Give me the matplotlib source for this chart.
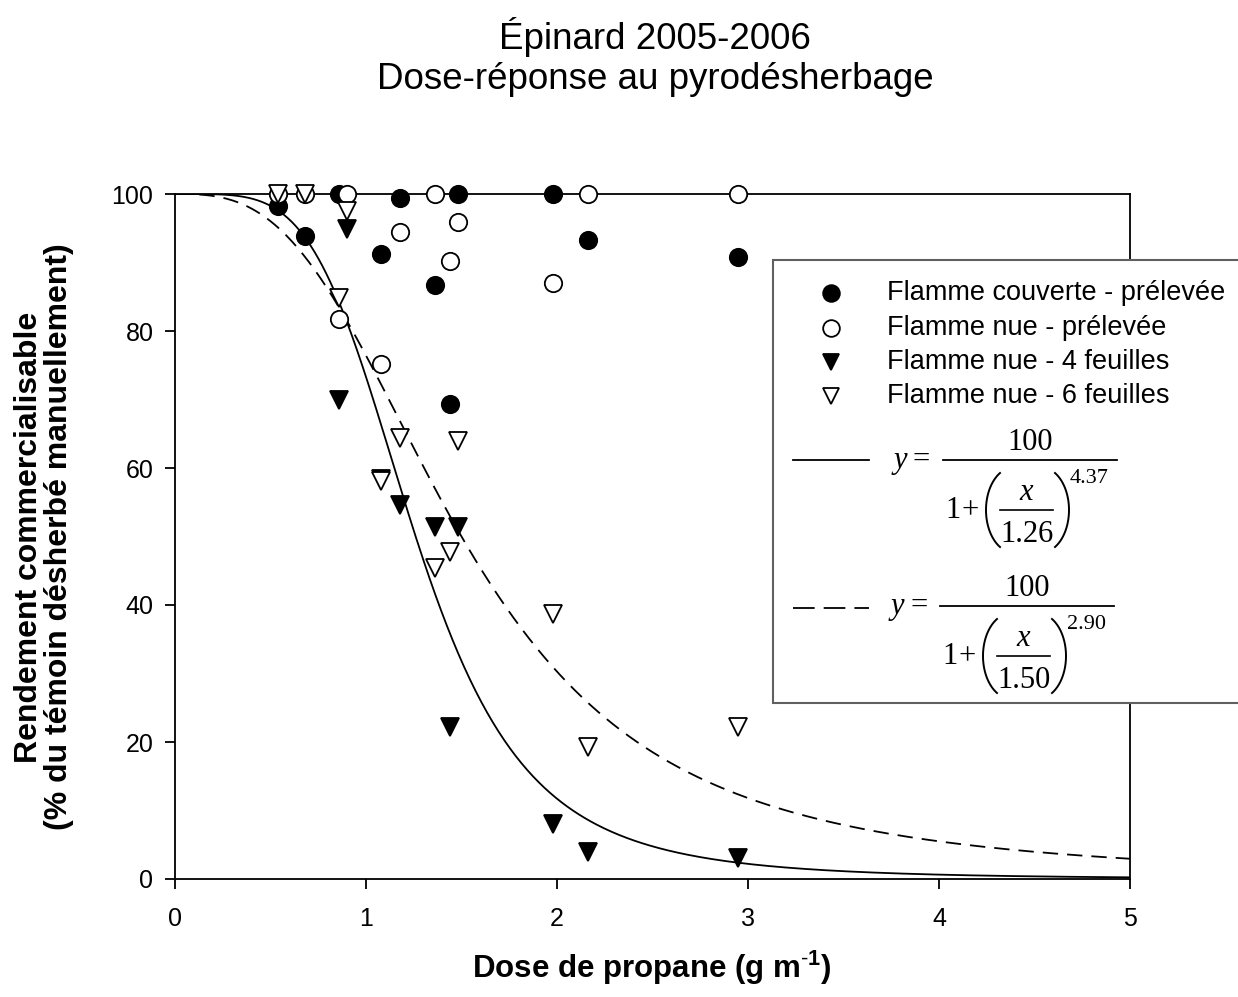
import numpy as np
import matplotlib
matplotlib.use("Agg")
import matplotlib.pyplot as plt
from matplotlib.lines import Line2D
from matplotlib.patches import Rectangle

plt.rcParams['font.family'] = ['Liberation Sans', 'DejaVu Sans']
plt.rcParams['mathtext.fontset'] = 'custom'
plt.rcParams['mathtext.rm'] = 'Liberation Sans'
plt.rcParams['mathtext.bf'] = 'Liberation Sans:bold'

# ---- data ----
couverte_x = [0.54, 0.68, 0.86, 1.08, 1.18, 1.36, 1.44, 1.48, 1.98, 2.16, 2.95]
couverte_y = [98.2, 93.9, 100.0, 91.2, 99.4, 86.7, 69.3, 100.0, 100.0, 93.3, 90.8]

nue_pre_x = [0.54, 0.68, 0.86, 0.90, 1.08, 1.18, 1.36, 1.44, 1.48, 1.98, 2.16, 2.95]
nue_pre_y = [100.0, 100.0, 81.8, 100.0, 75.2, 94.5, 100.0, 90.2, 95.9, 87.0, 100.0, 100.0]

f4_x = [0.86, 0.90, 1.08, 1.18, 1.36, 1.44, 1.48, 1.98, 2.16, 2.95]
f4_y = [69.9, 94.9, 58.4, 54.6, 51.4, 22.2, 51.4, 8.0, 3.9, 3.1]

f6_x = [0.54, 0.68, 0.86, 0.90, 1.08, 1.18, 1.36, 1.44, 1.48, 1.98, 2.16, 2.95]
f6_y = [100.0, 100.0, 84.8, 97.5, 58.1, 64.4, 45.4, 47.7, 63.9, 38.7, 19.3, 22.2]

# fitted log-logistic parameters (from the equations shown)
fit4_x50, fit4_b = 1.26, 4.37
fit6_x50, fit6_b = 1.50, 2.90

labels = ["Flamme couverte - prélevée", "Flamme nue - prélevée",
          "Flamme nue - 4 feuilles", "Flamme nue - 6 feuilles"]

W, H = 1238, 997
fig = plt.figure(figsize=(W / 100, H / 100), dpi=100)
ax = fig.add_axes([175 / W, 1 - 879 / H, (1130 - 175) / W, (879 - 194) / H])

xs = np.linspace(0.0, 5.0, 500)
ax.plot(xs, 100 / (1 + (xs / fit4_x50) ** fit4_b), color='black', lw=1.3)
ax.plot(xs, 100 / (1 + (xs / fit6_x50) ** fit6_b), color='black', lw=1.3,
        dashes=(8.5, 5))

ms = 12.5
mew = 1.3
ax.plot(couverte_x, couverte_y, 'o', ms=ms, mfc='black', mec='black', mew=mew,
        clip_on=False, zorder=5)
ax.plot(nue_pre_x, nue_pre_y, 'o', ms=ms, mfc='white', mec='black', mew=mew,
        clip_on=False, zorder=5)
ax.plot(f4_x, f4_y, 'v', ms=ms, mfc='black', mec='black', mew=mew,
        clip_on=False, zorder=6)
ax.plot(f6_x, f6_y, 'v', ms=ms, mfc='white', mec='black', mew=mew,
        clip_on=False, zorder=6)

ax.set_xlim(0, 5)
ax.set_ylim(0, 100)
ax.set_xticks([0, 1, 2, 3, 4, 5])
ax.set_yticks([0, 20, 40, 60, 80, 100])
ax.tick_params(direction='out', length=7.5, width=1.3, labelsize=18,
               top=False, right=False)
ax.tick_params(axis='x', pad=12.5)
ax.tick_params(axis='y', pad=8)
for s in ax.spines.values():
    s.set_linewidth(1.3)


def fx(px):
    return px / W


def fy(py):
    return 1 - py / H


# axis labels
fig.text(fx(652), fy(968), r"Dose de propane (g m$^{\mathbf{\text{-}1}}$)",
         ha='center', va='center', fontsize=22.5, fontweight='bold')
fig.text(fx(29), fy(537), "Rendement commercialisable", rotation=90,
         ha='center', va='center', fontsize=23, fontweight='bold')
fig.text(fx(59), fy(537), "(% du témoin désherbé manuellement)", rotation=90,
         ha='center', va='center', fontsize=23, fontweight='bold')

# title
fig.text(fx(655), fy(49), "Épinard 2005-2006", ha='center', va='baseline',
         fontsize=26.5)
fig.text(fx(655), fy(89), "Dose-réponse au pyrodésherbage", ha='center',
         va='baseline', fontsize=26.5)

# ---- legend box (manual, extends past figure edge) ----
fig.add_artist(Rectangle((fx(773), fy(703)), fx(1300) - fx(773), fy(260) - fy(703),
                         transform=fig.transFigure, fill=True, facecolor='white',
                         edgecolor='#606060', lw=1.5, zorder=10, clip_on=False))

marker_specs = [('o', 'black'), ('o', 'white'), ('v', 'black'), ('v', 'white')]
row_y = [293, 328, 362, 396]
for (m, fc), lab, ry in zip(marker_specs, labels, row_y):
    fig.add_artist(Line2D([fx(831)], [fy(ry)], marker=m, ms=12, mfc=fc, mec='black',
                          mew=1.3, transform=fig.transFigure, zorder=11))
    fig.text(fx(887), fy(ry), lab, ha='left', va='center', fontsize=19.5, zorder=11)

fig.add_artist(Line2D([fx(793), fx(869)], [fy(460), fy(460)], color='black', lw=1.3,
                      transform=fig.transFigure, zorder=11))
fig.add_artist(Line2D([fx(793), fx(869)], [fy(608), fy(608)], color='black', lw=1.3,
                      dashes=(12, 5), transform=fig.transFigure, zorder=11))

serif = 'Liberation Serif'


def paren(xe, xb, ytop, ybot):
    """Thin parenthesis from end x (xe) to bulge x (xb)."""
    th = np.radians(60)
    t = np.linspace(-th, th, 60)
    ry = (ybot - ytop) / 2 / np.sin(th)
    cy = (ytop + ybot) / 2
    rx = (xe - xb) / (1 - np.cos(th))
    px = xe - rx * (np.cos(t) - np.cos(th))
    py = cy + ry * np.sin(t)
    fig.add_artist(Line2D(fx(px), fy(py), color='black', lw=1.4,
                          transform=fig.transFigure, zorder=11))


def equation(by, dx, x50, b):
    fs = 22
    fig.text(fx(894 + dx), fy(by + 8), "y", family=serif, style='italic',
             fontsize=fs, ha='left', va='baseline', zorder=11)
    fig.text(fx(913 + dx), fy(by + 8), "=", family=serif,
             fontsize=fs, ha='left', va='baseline', zorder=11)
    fig.add_artist(Line2D([fx(943 + dx), fx(1117 + dx)], [fy(by), fy(by)],
                          color='black', lw=1.3, transform=fig.transFigure, zorder=11))
    fig.text(fx(1030 + dx), fy(by - 10), "100", family=serif, fontsize=fs,
             ha='center', va='baseline', zorder=11)
    fig.text(fx(945 + dx), fy(by + 58), "1", family=serif, fontsize=fs,
             ha='left', va='baseline', zorder=11)
    fig.text(fx(970 + dx), fy(by + 58), "+", family=serif, fontsize=fs,
             ha='center', va='baseline', zorder=11)
    paren(1000 + dx, 986 + dx, by + 13, by + 87)
    paren(1055 + dx, 1069 + dx, by + 13, by + 87)
    fig.text(fx(1026 + dx), fy(by + 40), "x", family=serif, style='italic',
             fontsize=fs, ha='center', va='baseline', zorder=11)
    fig.add_artist(Line2D([fx(1000 + dx), fx(1053 + dx)], [fy(by + 50), fy(by + 50)],
                          color='black', lw=1.2, transform=fig.transFigure, zorder=11))
    fig.text(fx(1027 + dx), fy(by + 82), "%.2f" % x50, family=serif, fontsize=fs,
             ha='center', va='baseline', zorder=11)
    fig.text(fx(1070 + dx), fy(by + 23), "%.2f" % b, family=serif, fontsize=16,
             ha='left', va='baseline', zorder=11)


equation(460, 0, fit4_x50, fit4_b)
equation(606, -3, fit6_x50, fit6_b)

fig.savefig("out.png", dpi=100)
